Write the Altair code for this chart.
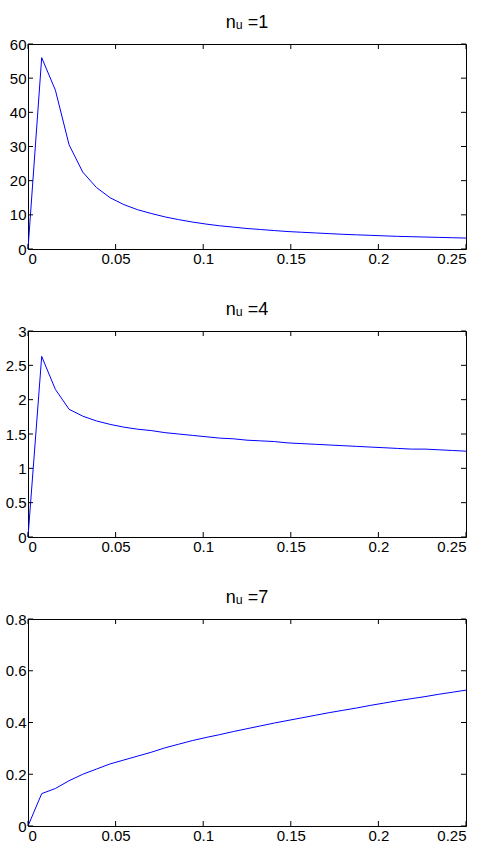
import altair as alt
import pandas as pd

# x grid: k/128 for k = 0..32
x_vals = [k / 128 for k in range(33)]

y_n1 = [0, 56, 46.5, 30.5, 22.5, 18, 15, 13, 11.5, 10.4, 9.4, 8.6, 7.9, 7.3, 6.8, 6.4,
        6.0, 5.7, 5.4, 5.1, 4.9, 4.7, 4.5, 4.3, 4.15, 4.0, 3.85, 3.7, 3.6, 3.5, 3.4, 3.3, 3.2]
y_n4 = [0, 2.63, 2.15, 1.86, 1.76, 1.69, 1.64, 1.60, 1.57, 1.55, 1.52, 1.50, 1.48, 1.46,
        1.44, 1.43, 1.41, 1.40, 1.39, 1.37, 1.36, 1.35, 1.34, 1.33, 1.32, 1.31, 1.30, 1.29,
        1.28, 1.28, 1.27, 1.26, 1.25]
y_n7 = [0, 0.125, 0.145, 0.175, 0.20, 0.22, 0.24, 0.255, 0.27, 0.285, 0.302, 0.316, 0.330,
        0.342, 0.353, 0.365, 0.376, 0.387, 0.398, 0.408, 0.418, 0.428, 0.438, 0.447, 0.456,
        0.466, 0.475, 0.484, 0.492, 0.500, 0.509, 0.517, 0.525]

titles = ["n\u1d64 =1", "n\u1d64 =4", "n\u1d64 =7"]
x_ticks = [0, 0.05, 0.1, 0.15, 0.2, 0.25]
y_ticks_list = [[0, 10, 20, 30, 40, 50, 60],
                [0, 0.5, 1, 1.5, 2, 2.5, 3],
                [0, 0.2, 0.4, 0.6, 0.8]]
y_formats = ["d", ".1~f", ".1~f"]
y_domains = [[0, 60], [0, 3], [0, 0.8]]

W = 438
TL = 5
FONT = "Liberation Sans"


def panel(yv, title, yticks, yfmt, ydom, h):
    df = pd.DataFrame({"x": x_vals, "y": yv})
    xs = alt.Scale(domain=[0, 0.25], nice=False, zero=False)
    ys = alt.Scale(domain=ydom, nice=False)
    xax = alt.Axis(values=x_ticks, format=".2~f", tickSize=0, grid=False, domain=False,
                   labelPadding=2, labelFontSize=15, labelColor="black", labelFont=FONT,
                   title=None)
    yax = alt.Axis(values=yticks, format=yfmt, tickSize=0, grid=False, domain=False,
                   labelPadding=2, labelFontSize=15, labelColor="black", labelFont=FONT,
                   title=None, minExtent=21)
    line = alt.Chart(df).mark_line(color="#0000ff", strokeWidth=1).encode(
        x=alt.X("x:Q", scale=xs, axis=xax),
        y=alt.Y("y:Q", scale=ys, axis=yax),
    )
    xt = pd.DataFrame({"x": x_ticks})
    yt = pd.DataFrame({"y": yticks})
    bottom = alt.Chart(xt).mark_rule(color="black").encode(
        x=alt.X("x:Q", scale=xs, axis=xax), y=alt.value(h), y2=alt.value(h - TL))
    top = alt.Chart(xt).mark_rule(color="black").encode(
        x=alt.X("x:Q", scale=xs, axis=xax), y=alt.value(0), y2=alt.value(TL))
    left = alt.Chart(yt).mark_rule(color="black").encode(
        y=alt.Y("y:Q", scale=ys, axis=yax), x=alt.value(0), x2=alt.value(TL))
    right = alt.Chart(yt).mark_rule(color="black").encode(
        y=alt.Y("y:Q", scale=ys, axis=yax), x=alt.value(W - TL), x2=alt.value(W))
    return alt.layer(line, bottom, top, left, right).properties(
        width=W, height=h,
        title=alt.Title(title, fontSize=18, fontWeight="normal", font=FONT,
                        color="black", offset=5),
    )


chart = alt.vconcat(
    panel(y_n1, titles[0], y_ticks_list[0], y_formats[0], y_domains[0], 205),
    panel(y_n4, titles[1], y_ticks_list[1], y_formats[1], y_domains[1], 206),
    panel(y_n7, titles[2], y_ticks_list[2], y_formats[2], y_domains[2], 207),
    spacing=33,
).properties(
    padding={"left": 4, "top": 13, "right": 5, "bottom": 5},
    background="white",
).configure_view(stroke="black", strokeWidth=1)

chart.save("out.html", embed_options={"renderer": "svg", "actions": False})
